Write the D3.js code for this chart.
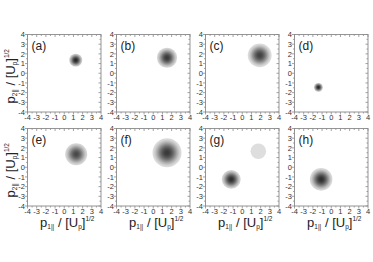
<!DOCTYPE html>
<html><head><meta charset="utf-8">
<script src="https://cdn.jsdelivr.net/npm/d3@7"></script>
<style>
body{margin:0;background:#fff;}
svg text{font-family:"Liberation Sans",Arial,sans-serif;}
</style></head>
<body>
<svg id="chart" width="373" height="262"></svg>
<script>
// ---- data ----
const panelLabels = ["(a)","(b)","(c)","(d)","(e)","(f)","(g)","(h)"];
const tickValues = [-4,-3,-2,-1,0,1,2,3,4];
// blobs: panel index, center (p1, p2), radius (units), center level, edge level (0=white,1=black)
const blobPanel  = [0,   1,   2,   3,    4,   5,   6,    6,   7];
const blobX      = [1.25,1.5, 1.9, -1.4, 1.3, 1.5, -1.2, 1.75,-1.1];
const blobY      = [1.35,1.6, 1.85,-1.45,1.35,1.5, -1.25,1.65,-1.25];
const blobR      = [0.7, 1.1, 1.3, 0.48, 1.2, 1.58,1.03, 0.85, 1.23];
const blobPeak   = [0.85,0.78,0.75,0.85, 0.72,0.78,0.82, 0.13, 0.82];
const blobEdge   = [0.2, 0.15,0.12,0.22, 0.15,0.13,0.15, 0.13, 0.14];

// ---- layout ----
const svg = d3.select("#chart");
const colX = [27.5,116.5,205.5,294.5];
const rowY = [34.5,128.5];
const pw = 73.5, ph = 77.5;
const x = d3.scaleLinear().domain([-4,4]).range([0,pw]);
const y = d3.scaleLinear().domain([-4,4]).range([ph,0]);
const minorTicks = d3.range(-4,4.01,0.5);

const defs = svg.append("defs");
function gray(l){const v=Math.round(255*(1-l));return d3.rgb(v,v,v).toString();}

blobPanel.forEach((p,i)=>{
  const g = defs.append("radialGradient").attr("id","g"+i);
  d3.range(0,1.001,0.1).forEach(t=>{
    const f = Math.pow(1-t*t,1.8);
    const l = blobEdge[i] + (blobPeak[i]-blobEdge[i])*f;
    g.append("stop").attr("offset",t).attr("stop-color",gray(l));
  });
});

for(let r=0;r<2;r++) for(let c=0;c<4;c++){
  const idx=r*4+c;
  const g = svg.append("g").attr("transform",`translate(${colX[c]},${rowY[r]})`);
  // blobs
  blobPanel.forEach((p,i)=>{
    if(p!==idx) return;
    g.append("circle").attr("cx",x(blobX[i])).attr("cy",y(blobY[i]))
      .attr("r",x(blobR[i])-x(0)).attr("fill",`url(#g${i})`);
  });
  // frame
  g.append("rect").attr("x",0).attr("y",0).attr("width",pw).attr("height",ph)
    .attr("fill","none").attr("stroke","#8a8a8a").attr("stroke-width",0.9);
  // ticks
  const tk = g.append("g").attr("stroke","#8a8a8a").attr("stroke-width",0.8);
  minorTicks.forEach(v=>{
    const major = Number.isInteger(v);
    const L = major?2.5:1.5;
    tk.append("line").attr("x1",x(v)).attr("x2",x(v)).attr("y1",ph).attr("y2",ph+L);
    tk.append("line").attr("x1",x(v)).attr("x2",x(v)).attr("y1",0).attr("y2",L);
    tk.append("line").attr("y1",y(v)).attr("y2",y(v)).attr("x1",0).attr("x2",-L);
    tk.append("line").attr("y1",y(v)).attr("y2",y(v)).attr("x1",pw).attr("x2",pw-L);
  });
  // tick labels
  g.append("g").selectAll("text").data(tickValues).join("text")
    .attr("x",d=>x(d)).attr("y",ph+8).attr("text-anchor","middle")
    .attr("font-size",7.5).attr("fill","#333").text(d=>d);
  g.append("g").selectAll("text").data(tickValues).join("text")
    .attr("x",-2.5).attr("y",d=>y(d)+2.7).attr("text-anchor","end")
    .attr("font-size",7.5).attr("fill","#333").text(d=>d);
  // panel label
  g.append("text").attr("x",4).attr("y",15).attr("font-size",12).attr("fill","#222")
    .text(panelLabels[idx]);
}

function axisTitle(t, sub){
  t.append("tspan").text("p");
  t.append("tspan").attr("font-size",6.5).attr("dy",2.5).text(sub);
  t.append("tspan").attr("dy",-2.5).text(" / [U");
  t.append("tspan").attr("font-size",6.5).attr("dy",2.5).text("p");
  t.append("tspan").attr("dy",-2.5).text("]");
  t.append("tspan").attr("font-size",6.5).attr("dy",-5.5).text("1/2");
}
// y labels
rowY.forEach(ry=>{
  const t = svg.append("text")
    .attr("transform",`translate(14.5,${ry+ph/2+3}) rotate(-90)`)
    .attr("text-anchor","middle").attr("font-size",13).attr("fill","#222");
  axisTitle(t,"2||");
});
// x labels
colX.forEach(cx=>{
  const t = svg.append("text")
    .attr("x",cx+pw/2+3).attr("y",rowY[1]+ph+20.5)
    .attr("text-anchor","middle").attr("font-size",13).attr("fill","#222");
  axisTitle(t,"1||");
});
</script>
</body></html>
